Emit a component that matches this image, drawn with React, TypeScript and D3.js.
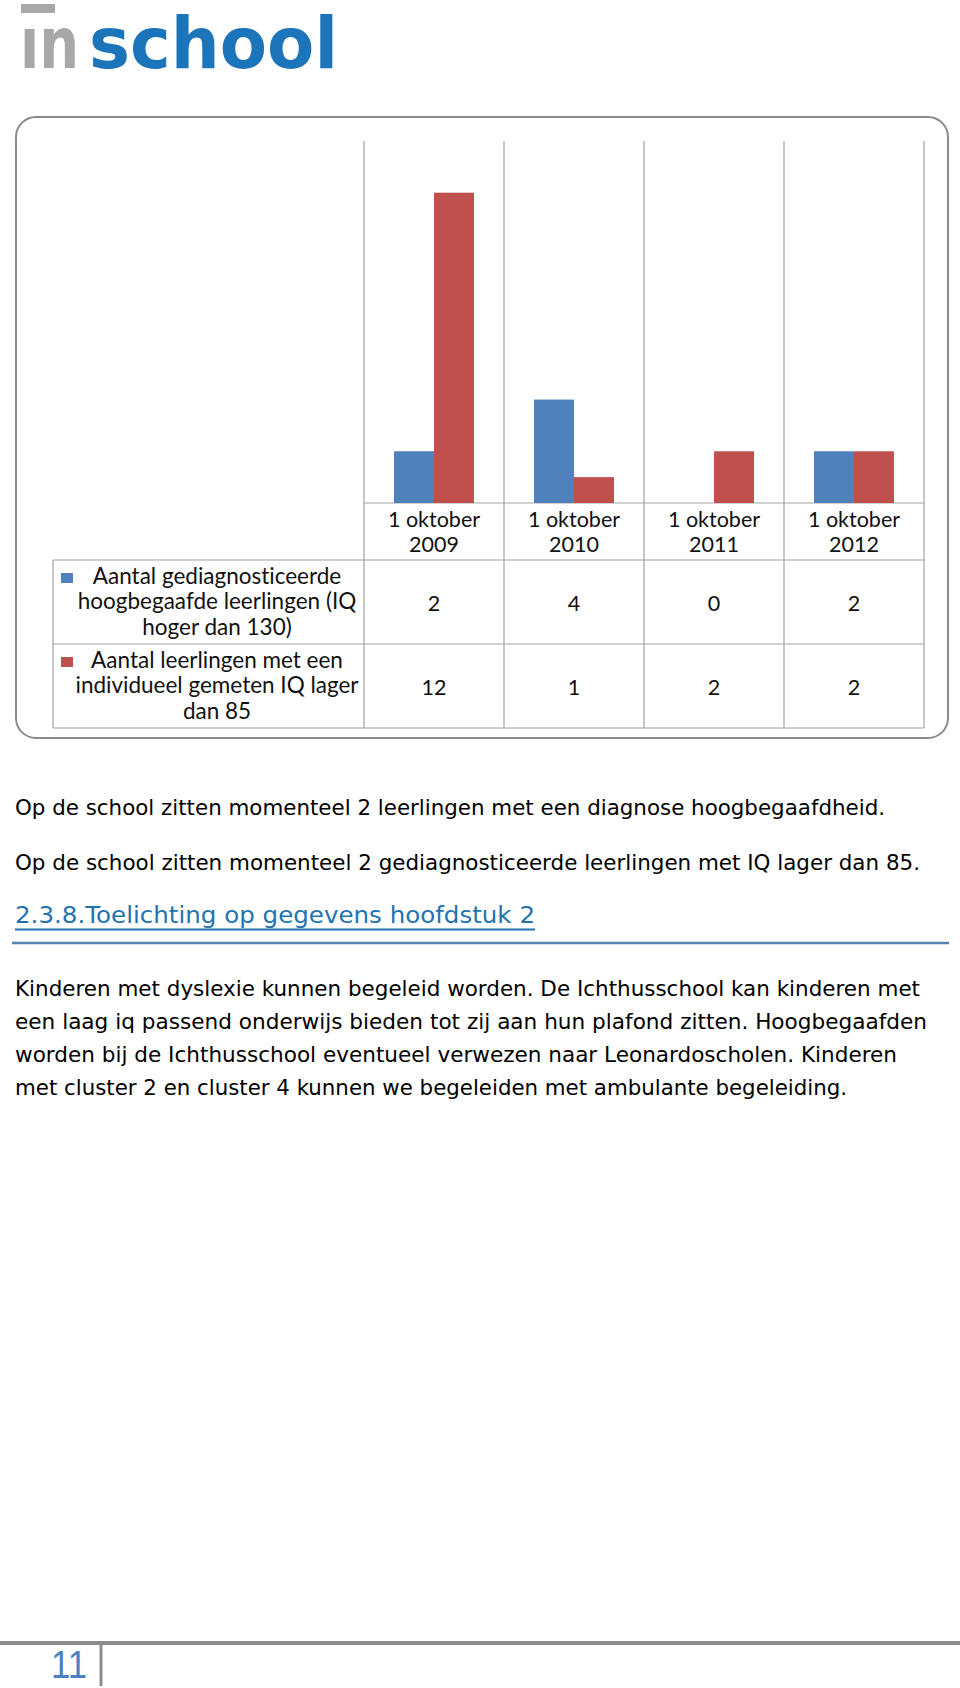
import React from 'react';
import * as d3 from 'd3';

const categories = ['1 oktober 2009', '1 oktober 2010', '1 oktober 2011', '1 oktober 2012'];
const seriesNames = ['hoogbegaafd', 'laagIQ'];
const seriesLabels = [
  ['Aantal gediagnosticeerde', 'hoogbegaafde leerlingen (IQ', 'hoger dan 130)'],
  ['Aantal leerlingen met een', 'individueel gemeten IQ lager', 'dan 85'],
];
const hoogbegaafdValues = [2, 4, 0, 2];
const laagIQValues = [12, 1, 2, 2];
const yTicks = [0, 14];

const bodyLines = [
  'Op de school zitten momenteel 2 leerlingen met een diagnose hoogbegaafdheid.',
  'Op de school zitten momenteel 2 gediagnosticeerde leerlingen met IQ lager dan 85.',
];
const heading = '2.3.8.Toelichting op gegevens hoofdstuk 2';
const paragraph = [
  'Kinderen met dyslexie kunnen begeleid worden. De Ichthusschool kan kinderen met',
  'een laag iq passend onderwijs bieden tot zij aan hun plafond zitten. Hoogbegaafden',
  'worden bij de Ichthusschool eventueel verwezen naar Leonardoscholen. Kinderen',
  'met cluster 2 en cluster 4 kunnen we begeleiden met ambulante begeleiding.',
];
const pageNumber = '11';

const colors = ['#4f81bd', '#c0504d'];
const grid = '#a3a3a3';
const chartFont = 'Lato, "Open Sans", sans-serif';
const bodyFont = '"DejaVu Sans", "Noto Sans", sans-serif';
const noLig = { fontVariantLigatures: 'none' as const };

export default function App() {
  const width = 960;
  const height = 1688;

  // plot area
  const plotLeft = 364;
  const plotRight = 924;
  const plotTop = 141;
  const baseline = 503;
  const tableLeft = 53;
  const rowTops = [503, 560, 644, 728];

  const x = d3.scaleBand<string>().domain(categories).range([plotLeft, plotRight]);
  const xInner = d3.scaleBand<string>().domain(seriesNames).range([0, x.bandwidth()]).paddingOuter(0.75);
  const y = d3.scaleLinear().domain(d3.extent(yTicks) as [number, number]).range([baseline, plotTop]);

  const values = [hoogbegaafdValues, laagIQValues];
  const bodyWidths = [870, 905];
  const paraWidths = [905, 912, 882, 832];

  return (
    <div style={{ position: 'absolute', left: 0, top: 0 }}>
      <svg width={width} height={height} style={{ display: 'block', background: '#fff' }}>
        {/* logo */}
        <g>
          <rect x={21} y={4} width={34} height={9} fill="#a8a8a8" />
          <text x={20} y={68} fontFamily='"DejaVu Sans", sans-serif' fontWeight={700} fontSize={72} fill="#a8a8a8"
            textLength={59} lengthAdjust="spacingAndGlyphs">ın</text>
          <text x={89} y={68} fontFamily='"DejaVu Sans", sans-serif' fontWeight={700} fontSize={72} fill="#1c74bb"
            textLength={249} lengthAdjust="spacingAndGlyphs">school</text>
        </g>

        {/* chart frame */}
        <rect x={16} y={117} width={932} height={621} rx={20} fill="#fff" stroke="#8a8a8a" strokeWidth={2} />

        {/* vertical gridlines */}
        {[...categories.map(c => x(c) as number), plotRight].map((gx, i) => (
          <line key={`v${i}`} x1={gx} x2={gx} y1={plotTop} y2={rowTops[3]} stroke={grid} strokeWidth={1.2} />
        ))}
        <line x1={tableLeft} x2={tableLeft} y1={rowTops[1]} y2={rowTops[3]} stroke={grid} strokeWidth={1.2} />
        <line x1={plotLeft} x2={plotRight} y1={rowTops[0]} y2={rowTops[0]} stroke={grid} strokeWidth={1.2} />
        {rowTops.slice(1).map((ry, i) => (
          <line key={`h${i}`} x1={tableLeft} x2={plotRight} y1={ry} y2={ry} stroke={grid} strokeWidth={1.2} />
        ))}

        {/* bars */}
        {seriesNames.map((s, si) =>
          categories.map((c, ci) => {
            const v = values[si][ci];
            return (
              <rect key={`${s}-${c}`}
                x={(x(c) as number) + (xInner(s) as number)}
                y={y(v)}
                width={xInner.bandwidth()}
                height={baseline - y(v)}
                fill={colors[si]} />
            );
          })
        )}

        {/* header row */}
        {categories.map(c => {
          const cx = (x(c) as number) + x.bandwidth() / 2;
          const parts = c.split(' ');
          return (
            <text key={`hd-${c}`} x={cx} textAnchor="middle" fontFamily={chartFont} fontSize={21.5} fill="#111" style={noLig}>
              <tspan x={cx} y={527}>{parts[0] + ' ' + parts[1]}</tspan>
              <tspan x={cx} y={552}>{parts[2]}</tspan>
            </text>
          );
        })}

        {/* legend cells + values */}
        {seriesNames.map((s, si) => {
          const top = rowTops[si + 1];
          const mid = (top + rowTops[si + 2]) / 2;
          return (
            <g key={`row-${s}`}>
              <rect x={61} y={top + 13} width={12} height={10} fill={colors[si]} />
              <text textAnchor="middle" fontFamily={chartFont} fontSize={22.5} fill="#111" style={noLig}>
                {seriesLabels[si].map((l, li) => (
                  <tspan key={li} x={217} y={top + 23.5 + li * 25.8}>{l}</tspan>
                ))}
              </text>
              {categories.map((c, ci) => (
                <text key={`val-${s}-${c}`} x={(x(c) as number) + x.bandwidth() / 2} y={mid + 8.5}
                  textAnchor="middle" fontFamily={chartFont} fontSize={21.5} fill="#111">
                  {values[si][ci]}
                </text>
              ))}
            </g>
          );
        })}

        {/* body text */}
        {bodyLines.map((t, i) => (
          <text key={`b${i}`} x={15} y={815 + i * 55} fontFamily={bodyFont} fontSize={21} fill="#000"
            textLength={bodyWidths[i]} lengthAdjust="spacingAndGlyphs">{t}</text>
        ))}

        <text x={15} y={923} fontFamily={bodyFont} fontSize={23} fill="#2273b0"
          textLength={520} lengthAdjust="spacingAndGlyphs">{heading}</text>
        <line x1={15} x2={535} y1={929.5} y2={929.5} stroke="#2273b0" strokeWidth={1.8} />
        <line x1={12} x2={949} y1={943} y2={943} stroke="#5a82b0" strokeWidth={2.5} />

        {paragraph.map((t, i) => (
          <text key={`p${i}`} x={15} y={996 + i * 33} fontFamily={bodyFont} fontSize={21} fill="#000"
            textLength={paraWidths[i]} lengthAdjust="spacingAndGlyphs">{t}</text>
        ))}

        {/* footer */}
        <line x1={0} x2={960} y1={1643} y2={1643} stroke="#8c8c8c" strokeWidth={4} />
        <line x1={101} x2={101} y1={1645} y2={1686} stroke="#8c8c8c" strokeWidth={3} />
        <text x={51} y={1678} fontFamily='"Liberation Sans", Arial, sans-serif' fontSize={38} fill="#4a7fc0"
          textLength={36} lengthAdjust="spacingAndGlyphs">{pageNumber}</text>
      </svg>
    </div>
  );
}
